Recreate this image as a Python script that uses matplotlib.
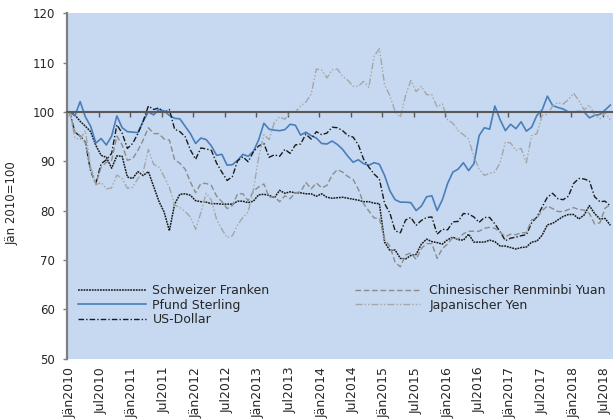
import matplotlib
matplotlib.use("Agg")
import matplotlib.pyplot as plt

# ---------------- data (index, Jän 2010 = 100), monthly Jan 2010 - Aug 2018 ----------------
chf = [100.0, 99.4, 98.1, 97.1, 96.0, 93.2, 91.2, 90.8, 88.6, 91.1, 91.0, 86.8,
       86.5, 87.9, 87.1, 87.9, 84.9, 81.9, 79.7, 75.9, 81.3, 83.3, 83.4, 83.1,
       82.0, 81.8, 81.7, 81.4, 81.4, 81.3, 81.3, 81.3, 81.9, 81.9, 81.6, 81.9,
       83.2, 83.3, 83.1, 82.6, 84.1, 83.5, 83.8, 83.6, 83.6, 83.4, 83.4, 82.9,
       83.4, 82.7, 82.5, 82.6, 82.7, 82.5, 82.3, 82.1, 81.8, 81.8, 81.5, 81.4,
       73.6, 71.9, 72.0, 70.3, 70.2, 70.9, 71.1, 73.2, 74.2, 73.7, 73.5, 73.2,
       74.1, 74.6, 74.1, 74.0, 75.2, 73.6, 73.6, 73.6, 74.0, 73.7, 72.8, 72.8,
       72.5, 72.2, 72.5, 72.6, 73.6, 73.8, 75.0, 77.1, 77.4, 78.1, 78.8, 79.2,
       79.2, 78.3, 79.1, 81.0, 79.4, 78.3, 78.4, 77.0]

gbp = [100.0, 99.2, 102.1, 99.0, 97.1, 93.7, 94.6, 93.3, 95.1, 99.2, 96.8, 96.0,
       95.9, 95.8, 98.1, 100.0, 99.4, 100.5, 100.2, 99.3, 98.7, 98.6, 97.1, 95.6,
       93.6, 94.7, 94.4, 93.1, 91.2, 91.4, 89.2, 89.3, 90.2, 91.4, 91.0, 92.0,
       94.3, 97.7, 96.5, 96.3, 96.2, 96.4, 97.5, 97.3, 95.3, 95.9, 95.2, 94.7,
       93.6, 93.5, 94.1, 93.4, 92.4, 91.0, 89.8, 90.3, 89.5, 89.2, 89.7, 89.4,
       87.1, 84.0, 82.2, 81.7, 81.7, 81.6, 80.0, 80.9, 82.8, 83.0, 80.0, 82.2,
       85.5, 87.8, 88.4, 89.7, 88.1, 89.5, 95.2, 96.8, 96.5, 101.2, 98.4, 96.2,
       97.5, 96.6, 98.0, 96.1, 96.9, 99.3, 100.4, 103.2, 101.3, 100.9, 100.6, 100.0,
       100.0, 100.1, 100.0, 98.8, 99.3, 99.5, 100.4, 101.4]

usd = [100.0, 95.9, 95.1, 93.9, 88.0, 85.5, 89.5, 90.3, 91.6, 97.4, 95.7, 92.6,
       93.6, 95.6, 98.1, 101.2, 100.5, 100.8, 99.9, 100.5, 96.5, 96.0, 95.0, 92.3,
       90.4, 92.7, 92.5, 92.2, 89.6, 87.8, 86.1, 86.9, 90.1, 90.9, 89.9, 91.9,
       93.1, 93.6, 90.8, 91.3, 91.0, 92.4, 91.6, 93.3, 93.5, 95.5, 94.5, 96.0,
       95.4, 95.7, 96.9, 96.8, 96.2, 95.2, 94.9, 93.3, 90.4, 88.8, 87.4, 86.4,
       81.4, 79.5, 75.9, 75.5, 78.1, 78.6, 77.0, 78.0, 78.6, 78.7, 75.2, 76.2,
       76.1, 77.7, 77.8, 79.4, 79.3, 78.7, 77.6, 78.6, 78.6, 77.3, 75.7, 73.9,
       74.4, 74.6, 74.9, 75.1, 77.5, 78.7, 80.7, 82.7, 83.5, 82.4, 82.2, 82.9,
       85.5, 86.5, 86.4, 86.0, 82.8, 81.8, 81.9, 80.9]

cny = [100.0, 95.9, 95.1, 93.9, 88.1, 85.4, 88.8, 89.8, 90.2, 95.1, 93.3, 90.2,
       90.5, 92.2, 94.3, 96.8, 95.6, 95.6, 94.5, 94.3, 90.3, 89.6, 88.4, 85.8,
       83.6, 85.5, 85.5, 85.1, 82.9, 81.8, 80.4, 81.0, 83.4, 83.4, 82.0, 83.9,
       84.8, 85.4, 82.7, 82.8, 81.8, 83.0, 82.4, 83.6, 83.8, 85.7, 84.4, 85.6,
       84.6, 85.1, 87.2, 88.3, 87.8, 86.9, 86.3, 84.3, 81.4, 79.9, 78.5, 78.4,
       74.1, 72.8, 69.5, 68.6, 71.0, 71.4, 70.1, 72.3, 73.3, 73.3, 70.3, 72.3,
       73.2, 74.6, 74.2, 75.3, 75.8, 75.8, 75.8, 76.4, 76.6, 76.4, 75.6, 74.7,
       75.2, 75.1, 75.5, 75.5, 78.1, 78.5, 80.0, 80.9, 80.4, 79.8, 79.8, 80.2,
       80.6, 80.2, 80.1, 79.4, 77.3, 77.5, 80.5, 81.2]

jpy = [100.0, 94.7, 94.4, 96.2, 88.9, 85.2, 85.7, 84.4, 84.6, 87.2, 86.5, 84.5,
       84.7, 86.5, 87.8, 92.4, 89.4, 88.8, 86.9, 84.7, 81.1, 80.6, 79.8, 78.7,
       76.2, 79.6, 83.5, 82.1, 78.2, 76.2, 74.5, 74.9, 77.1, 78.6, 79.7, 84.2,
       90.8, 95.4, 94.4, 97.9, 99.0, 98.5, 100.0, 100.0, 101.2, 102.0, 103.6, 108.7,
       108.5, 106.9, 108.5, 108.7, 107.2, 106.4, 105.2, 105.2, 106.2, 105.0, 111.3, 112.8,
       105.5, 103.3, 100.1, 98.9, 103.4, 106.4, 104.1, 105.2, 103.5, 103.5, 101.0, 101.6,
       98.4, 97.7, 96.2, 95.4, 94.5, 90.9, 88.4, 87.1, 87.6, 87.8, 89.7, 93.9,
       93.7, 92.2, 92.6, 89.7, 95.2, 95.6, 99.3, 99.5, 101.2, 101.9, 101.6, 102.5,
       103.8, 102.3, 100.4, 101.4, 99.4, 98.6, 99.9, 98.4]

tick_labels = ["Jän2010", "Jul2010", "Jän2011", "Jul2011", "Jän2012", "Jul2012",
               "Jän2013", "Jul2013", "Jän2014", "Jul2014", "Jän2015", "Jul2015",
               "Jän2016", "Jul2016", "Jän2017", "Jul2017", "Jän2018", "Jul2018"]

names = ["Schweizer Franken", "Pfund Sterling", "US-Dollar",
         "Chinesischer Renminbi Yuan", "Japanischer Yen"]

base_value = 100
y_min, y_max = 50, 120
step = 6  # months between labels

# ---------------- figure ----------------
W, H = 613, 419
fig = plt.figure(figsize=(W / 100, H / 100), dpi=100)
rect = [67 / W, (H - 358.5) / H, 546 / W, (358.5 - 13.3) / H]
ax = fig.add_axes(rect)
ax.set_facecolor("#C6D9F1")

n = len(chf)
x = list(range(n))

l_chf, = ax.plot(x, chf, color="#1A1A1A", lw=1.1, ls=(0, (1.2, 0.6)), label=names[0])
l_gbp, = ax.plot(x, gbp, color="#4A7EBB", lw=1.2, ls="-", label=names[1])
l_usd, = ax.plot(x, usd, color="#1A1A1A", lw=1.0, ls=(0, (4, 1.5, 1, 1.5)), label=names[2])
l_cny, = ax.plot(x, cny, color="#8C8C8C", lw=1.0, ls=(0, (4, 2)), label=names[3])
l_jpy, = ax.plot(x, jpy, color="#A6A6A6", lw=1.0, ls=(0, (5, 1.5, 1, 1.5, 1, 1.5)), label=names[4])

ax.set_xlim(-0.5, n - 0.5)
ax.set_ylim(y_min, y_max)

# spines: category axis crosses at 100
for s in ["top", "right"]:
    ax.spines[s].set_visible(False)
ax.spines["bottom"].set_position(("data", base_value))
ax.spines["bottom"].set_color("#595959")
ax.spines["bottom"].set_linewidth(1.5)
ax.spines["left"].set_color("#7F7F7F")
ax.spines["left"].set_linewidth(1.6)

# y ticks
ax.set_yticks(range(y_min, y_max + 1, 10))
ax.tick_params(axis="y", direction="out", length=3, width=1, color="#7F7F7F",
               labelsize=8.5, labelcolor="#262626", pad=5.5)

# tick marks on the 100 line (category boundaries)
ax.set_xticks([k - 0.5 for k in range(0, n, step)])
ax.tick_params(axis="x", direction="out", length=3.5, width=1, color="#595959",
               labelbottom=False)

# overlay axes only for the low-position x labels
axl = fig.add_axes(rect, frameon=False)
axl.patch.set_visible(False)
axl.set_xlim(-0.5, n - 0.5)
axl.set_ylim(y_min, y_max)
axl.yaxis.set_visible(False)
axl.set_xticks(range(0, n, step))
axl.set_xticklabels(tick_labels, rotation=90)
axl.tick_params(axis="x", length=0, labelsize=9, labelcolor="#262626", pad=6)

# y label
fig.text(12 / W, (H - 203) / H, "Jän 2010=100", rotation=90, ha="center", va="center",
         fontsize=8.5, color="#262626")

# legends (two columns)
leg1 = ax.legend(handles=[l_chf, l_gbp, l_usd], loc="upper left",
                 bbox_to_anchor=(78 / W, (H - 284) / H), bbox_transform=fig.transFigure,
                 frameon=False, fontsize=9, handlelength=5.4, handletextpad=0.55,
                 labelspacing=0.12, borderpad=0, borderaxespad=0, labelcolor="#262626")
ax.add_artist(leg1)
leg2 = ax.legend(handles=[l_cny, l_jpy], loc="upper left",
                 bbox_to_anchor=(355 / W, (H - 284) / H), bbox_transform=fig.transFigure,
                 frameon=False, fontsize=9, handlelength=5.2, handletextpad=0.75,
                 labelspacing=0.12, borderpad=0, borderaxespad=0, labelcolor="#262626")

fig.savefig("out.png", dpi=100)
